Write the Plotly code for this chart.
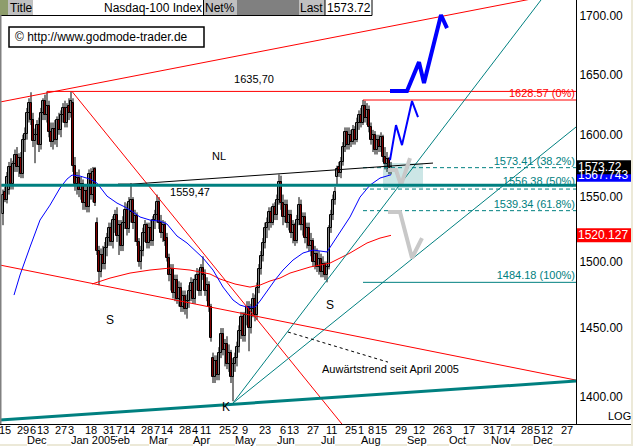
import math
import plotly.graph_objects as go

FONT = "Liberation Sans, Arial, sans-serif"

# ---------------- data ----------------
# trading-day index 0 = 12 Nov 2004 ... 194 = 22 Aug 2005
OPEN = [1537,1554,1548,1556,1574,1560,1576,1584,1574,1581,1568,1596,1601,1618,1626,1612,1595,1600,1608,1592,
        1618,1628,1616,1624,1602,1594,1605,1596,1612,1604,1616,1622,1610,1624,1618,1626,1575,1560,1565,1556,
        1560,1545,1555,1542,1568,1552,1572,1530,1508,1492,1505,1498,1510,1518,1526,1515,1532,1536,1520,1528,
        1512,1530,1540,1525,1538,1548,1530,1535,1515,1500,1508,1522,1528,1514,1526,1516,1532,1536,1546,1530,
        1522,1528,1518,1503,1490,1494,1476,1486,1472,1480,1466,1474,1464,1470,1478,1484,1472,1486,1490,1478,
        1495,1490,1478,1482,1466,1428,1414,1426,1416,1432,1446,1434,1438,1424,1432,1414,1424,1428,1436,1448,
        1458,1444,1460,1466,1450,1464,1472,1460,1480,1494,1504,1514,1526,1530,1538,1530,1542,1536,1548,1562,
        1545,1534,1544,1530,1536,1522,1528,1516,1532,1544,1528,1534,1518,1526,1512,1516,1500,1506,1496,1502,
        1492,1498,1490,1496,1526,1536,1548,1566,1574,1569,1578,1590,1602,1592,1600,1594,1604,1596,1610,1616,
        1610,1624,1614,1620,1606,1596,1600,1588,1596,1590,1598,1582,1576,1580,1572]
HIGH = [1556,1558,1570,1578,1581,1579,1588,1590,1585,1586,1600,1606,1622,1630,1635,1618,1605,1612,1614,1622,
        1630,1633,1635.7,1628,1610,1610,1612,1615,1618,1620,1626,1628,1626,1630,1635.5,1630,1582,1570,1572,1566,
        1564,1560,1560,1572,1573,1574,1574,1534,1512,1510,1512,1515,1522,1530,1530,1535,1540,1542,1532,1532,
        1535,1546,1545,1550,1561,1550,1540,1538,1518,1512,1526,1532,1530,1530,1532,1535,1540,1552,1550,1536,
        1532,1531,1522,1506,1498,1498,1490,1490,1485,1484,1478,1478,1475,1482,1488,1487,1490,1495,1494,1498,
        1504,1494,1488,1485,1468,1432,1430,1430,1436,1450,1450,1442,1444,1438,1434,1428,1432,1440,1452,1462,
        1462,1462,1470,1470,1468,1476,1475,1484,1498,1508,1518,1530,1534,1542,1542,1545,1546,1552,1568,1567,
        1552,1548,1548,1540,1540,1532,1530,1536,1550,1548,1538,1538,1530,1530,1522,1518,1512,1510,1508,1506,
        1504,1500,1500,1528,1540,1552,1558,1575,1578,1582,1594,1606,1606,1606,1604,1608,1607,1614,1620,1622,
        1628.57,1628,1626,1624,1610,1604,1603,1600,1600,1602,1600,1590,1586,1582,1578]
LOW = [1528,1546,1545,1552,1556,1556,1570,1570,1566,1565,1565,1586,1596,1610,1608,1590,1577,1592,1586,1588,
       1612,1612,1610,1598,1590,1588,1592,1590,1600,1598,1610,1606,1606,1612,1614,1570,1555,1552,1550,1548,
       1540,1540,1538,1538,1548,1546,1543,1505,1482,1488,1494,1494,1504,1512,1512,1510,1522,1515,1505,1508,
       1508,1525,1520,1522,1530,1525,1515,1512,1496,1494,1504,1515,1510,1510,1512,1512,1525,1530,1525,1518,
       1515,1512,1500,1485,1478,1472,1470,1468,1466,1462,1462,1460,1457,1465,1470,1468,1468,1478,1474,1474,
       1486,1474,1470,1462,1440,1410,1410,1412,1412,1428,1430,1422,1420,1418,1410,1397,1418,1422,1432,1442,
       1440,1440,1452,1433,1446,1458,1455,1456,1476,1490,1500,1510,1518,1524,1526,1528,1532,1532,1544,1540,
       1528,1530,1526,1524,1518,1514,1512,1514,1528,1524,1520,1514,1510,1508,1504,1496,1494,1492,1490,1488,
       1488,1486,1484.18,1494,1522,1532,1544,1560,1566,1565,1575,1586,1588,1588,1590,1592,1592,1594,1604,1606,
       1608,1610,1608,1602,1592,1586,1584,1584,1586,1586,1578,1572,1570,1568,1568]
CLOSE = [1552,1548,1566,1574,1560,1576,1584,1574,1581,1568,1596,1601,1618,1626,1612,1595,1600,1608,1592,1618,
         1628,1616,1624,1602,1594,1605,1596,1612,1604,1616,1622,1610,1622,1618,1628,1575,1560,1565,1556,1560,
         1545,1555,1542,1568,1552,1570,1545,1508,1492,1505,1498,1510,1518,1526,1515,1532,1536,1520,1528,1512,
         1530,1540,1525,1546,1548,1530,1535,1515,1500,1508,1522,1528,1514,1526,1516,1532,1536,1546,1530,1522,
         1528,1516,1503,1490,1494,1476,1486,1472,1480,1466,1474,1464,1470,1478,1484,1472,1486,1490,1478,1495,
         1490,1478,1482,1466,1443,1414,1426,1416,1432,1446,1434,1438,1424,1432,1414,1424,1428,1436,1448,1458,
         1444,1460,1466,1450,1464,1472,1460,1480,1494,1504,1514,1526,1530,1538,1530,1542,1536,1548,1562,1545,
         1534,1544,1530,1536,1522,1528,1516,1532,1544,1528,1534,1518,1526,1512,1516,1500,1506,1496,1502,1492,
         1498,1490,1496,1526,1536,1548,1554,1572,1569,1578,1590,1602,1592,1600,1594,1604,1596,1610,1616,1610,
         1624,1614,1620,1606,1596,1600,1588,1596,1590,1598,1582,1576,1580,1572,1573.72]
DAYS = list(range(len(CLOSE)))

# moving averages: [trading-day index], [price]
MA_BLUE_K = [5.5,8.5,13.5,18.5,23.5,28.5,32,34.5,38.5,43.5,47,52,57,61,65,68.5,73.5,78.5,82,87,92,96,100,105,110,
             115,118.5,122,126,128.5,132,136,140,145,150,155,162,165,168.5,173.5,178.5,183.5,188.5,194]
MA_BLUE_P = [1474.6,1489.7,1511.1,1532.0,1543.7,1557.2,1564.3,1567.5,1566.7,1564.3,1561.1,1550.8,1545.3,1542.2,
             1538.3,1534.4,1532.0,1531.2,1528.9,1519.6,1514.2,1508.8,1502.7,1493.5,1480.6,1470.9,1467.1,1465.6,
             1465.6,1470.1,1477.6,1485.9,1493.5,1501.1,1506.5,1508.8,1507.3,1514.2,1521.9,1534.4,1550.0,1559.5,
             1565.1,1567.743]
MA_RED_K = [44.5,53.5,63.5,73.5,83.5,93.5,103.5,108.5,116,123.5,128.5,133.5,138.5,143.5,153.5,163.5,173.5,182,188.5,194]
MA_RED_P = [1482.9,1487.4,1491.2,1493.5,1495.0,1493.5,1490.5,1486.7,1482.9,1480.6,1482.1,1485.2,1487.4,1491.2,
            1495.8,1498.8,1506.5,1514.2,1518.0,1520.127]

# drawn objects: [start index, end index], [start price, end price]
TOP_CHANNEL_K, TOP_CHANNEL_P = [-1.5, 286.5], [1626.9, 1722.1]
DOWN_STEEP_K, DOWN_STEEP_P = [34.5, 173.5], [1635.7, 1373.9]
DOWN_LONG_K, DOWN_LONG_P = [-1.5, 286.5], [1497.3, 1412.1]
BOTTOM_TEAL_K, BOTTOM_TEAL_P = [-1.5, 286.5], [1383.7, 1411.4]
UP_STEEP_K, UP_STEEP_P = [115, 273], [1395.7, 1722.8]
UP_FLAT_K, UP_FLAT_P = [115, 286.5], [1395.7, 1606.3]
NECK_K, NECK_P = [57.5, 64.5, 215], [1560.3, 1560.3, 1577.1]
HIGH_DEC, HIGH_DEC_K = 1635.70, [22, 286.5]
SUPPORT, SUPPORT_K = 1559.47, [-1.5, 286.5]
FIB_TOP, FIB_LOW = 1628.57, 1484.18
FIB_LEVELS = [1573.41, 1556.38, 1539.34]
FIB_TEXT = ["1573.41 (38.2%)", "1556.38 (50%)", "1539.34 (61.8%)"]
FIB_TEXT_P = [1577.9, 1561.9, 1543.4]
FIB_K = [180, 286.5]
ZONE_K, ZONE_P = [190, 210], [1557.2, 1577.1]
GREY1_K, GREY1_P = [192.5, 196.5, 199, 203.5], [1571.5, 1571.5, 1559.5, 1581.1]
GREY2_K, GREY2_P = [192.5, 198.5, 204.5, 209.5], [1538.3, 1538.3, 1502.7, 1518.0]
BLUE_THIN_K, BLUE_THIN_P = [193.5, 196.5, 199.5, 204.5, 207.5], [1579.5, 1607.9, 1591.6, 1627.7, 1614.5]
BLUE_THICK_K, BLUE_THICK_P = [193.5, 202, 208, 210.5, 219, 222], [1636.0, 1636.0, 1660.3, 1642.7, 1700.6, 1689.3]
POINTER_K, POINTER_P = [142.5, 192.5], [1447.1, 1425.1]

# chart texts: text, index, price
LABELS = [("1635,70", 125.5, 1645.2), ("NL", 108, 1581.9), ("1559,47", 93.5, 1553.2),
          ("S", 53.5, 1455.2), ("S", 163.5, 1466.3), ("K", 111.5, 1392.1)]
TREND_TEXT = ("Auwärtstrend seit April 2005", 159.5, 1419.4)

# axes
Y_TICKS = [1400, 1450, 1500, 1550, 1600, 1650, 1700]
DAY_TICK_K = [1, 10, 15, 20, 29, 34, 44, 53, 58, 63, 72, 77, 82, 91, 96, 101, 111, 116, 121, 131, 140, 145, 155,
              164, 174, 179, 184, 189, 199, 208, 218, 223, 233, 243, 248, 253, 262, 267, 272, 282]
DAY_TICK_TEXT = ["15", "29", "6", "13", "27", "3", "18", "31", "7", "14", "28", "7", "14", "28", "4", "11", "25",
                 "2", "9", "23", "6", "13", "27", "11", "25", "1", "8", "15", "29", "12", "26", "3", "17", "31",
                 "7", "14", "28", "5", "12", "27"]
MONTH_K = [12, 54, 34, 73, 95, 116, 137, 159, 179, 202, 223, 244, 265]
MONTH_TEXT = ["Dec", "Feb", "Jan 2005", "Mar", "Apr", "May", "Jun", "Jul", "Aug", "Sep", "Oct", "Nov", "Dec"]
LAST, MA_BLUE_LAST, MA_RED_LAST = 1573.72, 1567.743, 1520.127

# ---------------- layout geometry ----------------
W, H = 633, 446
PL, PR, PT, PB = 0, 57, 0, 22
PW, PH = W - PL - PR, H - PT - PB
X_RANGE = [-1.5, 286.5]
Y_RANGE = [3.14016, 3.23392]


def xp(px):
    return px / PW


def yp(py):
    return (PH - py) / PH


def yval(v):
    return (math.log10(v) - Y_RANGE[0]) / (Y_RANGE[1] - Y_RANGE[0])


RED, TEAL, BLUE = "#FF0000", "#008080", "#0000FF"

fig = go.Figure()

# candles: wicks + bodies
wx, wy = [], []
for k, hi, lo in zip(DAYS, HIGH, LOW):
    wx += [k, k, None]
    wy += [lo, hi, None]
fig.add_trace(go.Scatter(x=wx, y=wy, mode="lines", line=dict(color="black", width=1),
                         hoverinfo="skip", showlegend=False))
body_base = [min(o, c) for o, c in zip(OPEN, CLOSE)]
body_size = [max(abs(c - o), 0.5) for o, c in zip(OPEN, CLOSE)]
body_col = ["white" if c >= o else RED for o, c in zip(OPEN, CLOSE)]
fig.add_trace(go.Bar(x=DAYS, y=body_size, base=body_base, width=1.45,
                     marker=dict(color=body_col, line=dict(color="black", width=1)),
                     hoverinfo="skip", showlegend=False))


def line(k, p, color, width=1, dash=None):
    fig.add_trace(go.Scatter(x=k, y=p, mode="lines", hoverinfo="skip", showlegend=False,
                             line=dict(color=color, width=width, dash=dash)))


def text(t, k, p, color="black", size=11, pos="middle center"):
    fig.add_trace(go.Scatter(x=[k], y=[p], mode="text", text=[t], textposition=pos,
                             hoverinfo="skip", showlegend=False,
                             textfont=dict(color=color, size=size, family=FONT)))


# shaded zone
fig.add_trace(go.Scatter(x=[ZONE_K[0], ZONE_K[1], ZONE_K[1], ZONE_K[0], ZONE_K[0]],
                         y=[ZONE_P[0], ZONE_P[0], ZONE_P[1], ZONE_P[1], ZONE_P[0]],
                         mode="lines", fill="toself", fillcolor="rgba(0,128,128,0.2)",
                         line=dict(width=0), hoverinfo="skip", showlegend=False))

line(MA_RED_K, MA_RED_P, RED)
line(MA_BLUE_K, MA_BLUE_P, BLUE)
line(TOP_CHANNEL_K, TOP_CHANNEL_P, RED)
line(DOWN_STEEP_K, DOWN_STEEP_P, RED)
line(DOWN_LONG_K, DOWN_LONG_P, RED)
line(HIGH_DEC_K, [HIGH_DEC, HIGH_DEC], RED)
line(FIB_K, [FIB_TOP, FIB_TOP], RED)
line(UP_STEEP_K, UP_STEEP_P, TEAL)
line(UP_FLAT_K, UP_FLAT_P, TEAL)
for lv in FIB_LEVELS:
    line(FIB_K, [lv, lv], TEAL, 1, "4px,3px")
line(FIB_K, [FIB_LOW, FIB_LOW], TEAL)
line(NECK_K, NECK_P, "black")
line(POINTER_K, POINTER_P, "black", 1, "3px,3px")
line(GREY1_K, GREY1_P, "#C8C8C8", 4)
line(GREY2_K, GREY2_P, "#C8C8C8", 4)
line(BLUE_THIN_K, BLUE_THIN_P, BLUE, 2)
line(BLUE_THICK_K, BLUE_THICK_P, BLUE, 4)

# fib texts
text("1628.57 (0%)", 286, 1633.5, RED, 11, "middle left")
for t, pp in zip(FIB_TEXT, FIB_TEXT_P):
    text(t, 286, pp, TEAL, 11, "middle left")
text("1484.18 (100%)", 286, 1488.9, TEAL, 11, "middle left")

line(SUPPORT_K, [SUPPORT, SUPPORT], TEAL, 3)
line(BOTTOM_TEAL_K, BOTTOM_TEAL_P, TEAL, 3)

for t, k, p in LABELS:
    text(t, k, p, "black", 12 if t in ("S", "K") else 11)
text(TREND_TEXT[0], TREND_TEXT[1], TREND_TEXT[2], "black", 11, "middle right")

# ---------------- shapes (frame, header, copyright, price tags) ----------------
shapes = []


def rect(x0, y0, x1, y1, fill, linecolor=None, lw=0):
    shapes.append(dict(type="rect", xref="paper", yref="paper", x0=xp(x0), x1=xp(x1), y0=yp(y1), y1=yp(y0),
                       fillcolor=fill, line=dict(color=linecolor or fill, width=lw), layer="above"))


def hline(x0, x1, y, color="black", w=1):
    shapes.append(dict(type="line", xref="paper", yref="paper", x0=xp(x0), x1=xp(x1), y0=yp(y), y1=yp(y),
                       line=dict(color=color, width=w), layer="above"))


def vline(x, y0, y1, color="black", w=1):
    shapes.append(dict(type="line", xref="paper", yref="paper", x0=xp(x), x1=xp(x), y0=yp(y0), y1=yp(y1),
                       line=dict(color=color, width=w), layer="above"))


# header bar
rect(0, 0, 8, 15, "#8E9D6C")
rect(8, 0, 33, 15, "#C0C0C0")
rect(33, 0, 203, 15, "white")
rect(203, 0, 237, 15, "#C0C0C0")
rect(237, 0, 299, 15, "#808080")
rect(299, 0, 325, 15, "#C0C0C0")
rect(325, 0, 372, 15, "white")
hline(0, 372, 15.5)
vline(203.5, 0, 15.5)
vline(325, 0, 15.5)
vline(372, 0, 15.5)
# copyright box
rect(9, 27, 204, 47, "white", "black", 1.5)
# frame lines
vline(0.5, 15, PH, "#808080", 2)
hline(0, W, PH + 0.5)
hline(0, W, H - 1, "#ECE9D8", 2)
vline(W - 1, 0, H, "#ECE9D8", 2)

# price tags on the right axis (boxes)
TAGS = [(MA_RED_LAST, RED), (MA_BLUE_LAST, BLUE), (LAST, "black")]
for val, bg in TAGS:
    yc = yval(val)
    shapes.append(dict(type="rect", xref="paper", yref="paper", x0=xp(577), x1=xp(W - 2),
                       y0=yc - 7 / PH, y1=yc + 7 / PH, fillcolor=bg, line=dict(width=0), layer="above"))

# ---------------- annotations ----------------
ann = []


def note(t, x, y, xanchor="left", size=12, color="black", **kw):
    d = dict(text=t, xref="paper", yref="paper", x=xp(x), y=yp(y), xanchor=xanchor, yanchor="middle",
             showarrow=False, font=dict(family=FONT, size=size, color=color), borderpad=0, borderwidth=0)
    d.update(kw)
    ann.append(d)


note("Title", 10, 7.5)
note("Nasdaq-100 Index", 202, 7.5, "right")
note("Net%", 205, 7.5)
note("Last", 300, 7.5)
note("1573.72", 371, 7.5, "right")
note("© http://www.godmode-trader.de", 15, 37)
note("LOG", 608, 416, "left", 11)

# day labels
for k, t in zip(DAY_TICK_K, DAY_TICK_TEXT):
    ann.append(dict(text=t, xref="x", yref="paper", x=k, y=yp(430), xanchor="center", yanchor="middle",
                    showarrow=False, font=dict(family=FONT, size=11, color="black"), borderpad=0,
                    borderwidth=0))
# month labels
for k, t in zip(MONTH_K, MONTH_TEXT):
    ann.append(dict(text=t, xref="x", yref="paper", x=k, y=yp(439.5), xanchor="left", yanchor="middle",
                    showarrow=False, font=dict(family=FONT, size=11, color="black"), borderpad=0,
                    borderwidth=0, bgcolor="white"))

# price tag texts
for val, bg in TAGS:
    ann.append(dict(text=f"{val}", xref="paper", yref="paper", x=xp(578), y=yval(val), xanchor="left",
                    yanchor="middle", showarrow=False, borderpad=0, borderwidth=0,
                    font=dict(family=FONT, size=12, color="white")))

fig.update_layout(
    width=W, height=H, autosize=False,
    margin=dict(l=PL, r=PR, t=PT, b=PB, pad=0),
    paper_bgcolor="white", plot_bgcolor="white",
    showlegend=False, hovermode=False, barmode="overlay", bargap=0,
    shapes=shapes, annotations=ann,
    xaxis=dict(range=X_RANGE, type="linear", showgrid=False, zeroline=False, showline=False,
               showticklabels=False, ticks="", fixedrange=True),
    yaxis=dict(type="log", range=Y_RANGE, side="right", showgrid=False, zeroline=False, showline=True,
               linecolor="black", linewidth=1, ticks="", tickmode="array", tickvals=Y_TICKS,
               ticktext=[f"{v:.2f}" for v in Y_TICKS], tickfont=dict(family=FONT, size=12, color="black"),
               fixedrange=True),
)

fig.write_html("out.html", config={"displayModeBar": False},
               post_script="document.body.style.margin='0';document.body.style.overflow='hidden';")
